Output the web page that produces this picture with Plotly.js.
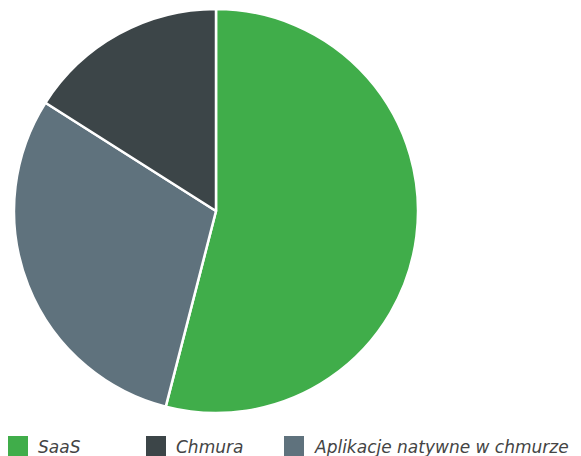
<!DOCTYPE html>
<html><head><meta charset="utf-8">
<script src="https://cdn.plot.ly/plotly-3.0.1.min.js"></script>
<style>html,body{margin:0;padding:0;background:#fff}</style>
</head><body>
<div id="chart" style="width:581px;height:456px"></div>
<script>
var labels = ['SaaS', 'Chmura', 'Aplikacje natywne w chmurze'];
var values = [54, 16, 30];
var colors = ['#40ad4a', '#3c4548', '#5f727d'];
// clockwise drawing order of the slices
var pieOrder = [0, 2, 1];

var W = 581, H = 456;
function px(x){ return x / W; }
function py(y){ return 1 - y / H; }

var legendX = [8, 146, 284];
var shapes = [], annotations = [];
for (var i = 0; i < labels.length; i++) {
  shapes.push({type:'rect', xref:'paper', yref:'paper',
    x0: px(legendX[i]), x1: px(legendX[i] + 20), y0: py(458), y1: py(436),
    fillcolor: colors[i], line:{width:0}});
  annotations.push({xref:'paper', yref:'paper', x: px(legendX[i] + 28), y: py(447),
    xanchor:'left', yanchor:'middle', showarrow:false, text: '<i>' + labels[i] + '</i>',
    font:{family:'DejaVu Sans', size:17, color:'#444'}});
}

var trace = {
  type:'pie',
  labels: pieOrder.map(function(k){ return labels[k]; }),
  values: pieOrder.map(function(k){ return values[k]; }),
  sort:false, direction:'clockwise', rotation: 0,
  marker:{colors: pieOrder.map(function(k){ return colors[k]; }), line:{color:'#ffffff', width:2.5}},
  textinfo:'none', hoverinfo:'label+percent',
  domain:{x:[px(14), px(418)], y:[py(413), py(9)]},
  showlegend:false
};

Plotly.newPlot('chart', [trace], {
  width:W, height:H, margin:{l:0,r:0,t:0,b:0},
  paper_bgcolor:'#fff', showlegend:false,
  shapes: shapes, annotations: annotations
}, {displayModeBar:false, staticPlot:true});
</script>
</body></html>
